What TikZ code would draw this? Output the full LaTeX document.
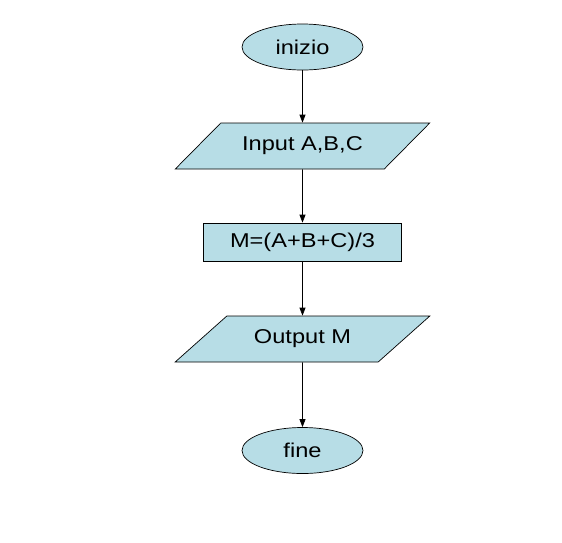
\documentclass[tikz,border=0pt]{standalone}
\usepackage{fontspec}
\setmainfont[FakeStretch=1.18]{Liberation Sans}
\usetikzlibrary{shapes.geometric,arrows.meta,positioning}
\definecolor{flowblue}{RGB}{183,221,230}

\begin{document}
\begin{tikzpicture}[
        x=1pt, y=1pt,
        node distance=97pt,
        >={Triangle[length=8pt,width=6pt]},
        every node/.style={draw, fill=flowblue, line width=0.7pt, font=\fontsize{20}{24}\selectfont},
        terminal/.style={ellipse, minimum width=121pt, minimum height=46pt, inner sep=0pt},
        io/.style={trapezium, trapezium left angle=35, trapezium right angle=145, trapezium stretches=true, minimum width=255pt, minimum height=46pt},
        process/.style={rectangle, minimum width=198pt, minimum height=38pt}
    ]
        \useasboundingbox (0,0) rectangle (562,-542);

        \node[terminal] (start) at (302.5,-47) {inizio};
        \node[io, below of=start, yshift=-2pt] (input) {Input A,B,C};
        \node[process, below of=input, yshift=1pt] (media) {M=(A+B+C)/3};
        \node[io, below of=media] (output) {Output M};
        \node[terminal, below of=output, yshift=-14.5pt] (stop) {fine};

        \draw[->, line width=0.7pt] (start) -- (input);
        \draw[->, line width=0.7pt] (input) -- (media);
        \draw[->, line width=0.7pt] (media) -- (output);
        \draw[->, line width=0.7pt] (output) -- (stop);
    \end{tikzpicture}
\end{document}
